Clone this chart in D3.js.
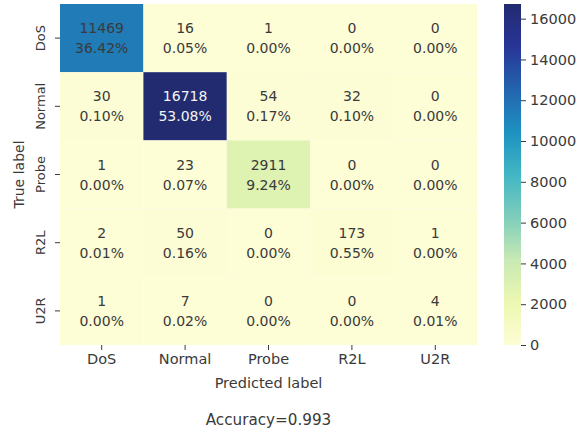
<!DOCTYPE html>
<html>
<head>
<meta charset="utf-8">
<script src="https://cdn.jsdelivr.net/npm/d3@7"></script>
<style>
  html, body { margin: 0; padding: 0; background: #fff; }
  svg { display: block; }
  text { font-family: "DejaVu Sans", sans-serif; }
</style>
</head>
<body>
<svg id="chart" width="581" height="432"></svg>
<script>
const trueLabels = ["DoS", "Normal", "Probe", "R2L", "U2R"];
const predLabels = ["DoS", "Normal", "Probe", "R2L", "U2R"];
const counts = [
  [11469, 16, 1, 0, 0],
  [30, 16718, 54, 32, 0],
  [1, 23, 2911, 0, 0],
  [2, 50, 0, 173, 1],
  [1, 7, 0, 0, 4]
];
const percents = [
  [36.42, 0.05, 0.00, 0.00, 0.00],
  [0.10, 53.08, 0.17, 0.10, 0.00],
  [0.00, 0.07, 9.24, 0.00, 0.00],
  [0.01, 0.16, 0.00, 0.55, 0.00],
  [0.00, 0.02, 0.00, 0.00, 0.01]
];
const colorbarTicks = [0, 2000, 4000, 6000, 8000, 10000, 12000, 14000, 16000];
const accuracyText = "Accuracy=0.993";
const xTitle = "Predicted label";
const yTitle = "True label";

const ylgnbu = ["#fdfdd6","#edf8b1","#c7e9b4","#7fcdbb","#41b6c4","#1d91c0","#2364ae","#283596","#222b70"];
const maxVal = d3.max(counts.flat());
const color = d3.scaleSequential(d3.piecewise(d3.interpolateRgb, ylgnbu)).domain([0, maxVal]);

const svg = d3.select("#chart");
const L = 60, R = 477, T = 4, B = 345;
const x = d3.scaleBand().domain(predLabels).range([L, R]);
const y = d3.scaleBand().domain(trueLabels).range([T, B]);

const cells = [];
counts.forEach((row, i) => row.forEach((v, j) => cells.push({r: trueLabels[i], c: predLabels[j], v, p: percents[i][j]})));

svg.append("g").selectAll("rect").data(cells).join("rect")
  .attr("x", d => x(d.c)).attr("y", d => y(d.r))
  .attr("width", x.bandwidth()).attr("height", y.bandwidth())
  .attr("fill", d => color(d.v));

function textColor(v) {
  const c = d3.rgb(color(v));
  const lum = 0.2126 * c.r/255 + 0.7152 * c.g/255 + 0.0722 * c.b/255;
  return lum < 0.408 ? "#f4f4f4" : "#3a3a3a";
}

const ann = svg.append("g").attr("font-size", 14).attr("text-anchor", "middle");
ann.selectAll("text.cnt").data(cells).join("text").attr("class", "cnt")
  .attr("x", d => x(d.c) + x.bandwidth()/2)
  .attr("y", d => y(d.r) + y.bandwidth()/2 - 10 + 5)
  .attr("fill", d => textColor(d.v))
  .text(d => d.v);
ann.selectAll("text.pct").data(cells).join("text").attr("class", "pct")
  .attr("x", d => x(d.c) + x.bandwidth()/2)
  .attr("y", d => y(d.r) + y.bandwidth()/2 + 10 + 5)
  .attr("fill", d => textColor(d.v))
  .text(d => d.p.toFixed(2) + "%");

// x axis
const xa = svg.append("g").attr("transform", `translate(0,${B})`)
  .call(d3.axisBottom(x).tickSize(5).tickPadding(4));
xa.select(".domain").remove();
xa.selectAll("line").attr("stroke", "#3a3a3a");
xa.selectAll("text").attr("font-size", 14.5).attr("fill", "#3a3a3a").attr("font-family", "DejaVu Sans");

// y axis
const ya = svg.append("g").attr("transform", `translate(${L},0)`)
  .call(d3.axisLeft(y).tickSize(5).tickPadding(4));
ya.select(".domain").remove();
ya.selectAll("line").attr("stroke", "#3a3a3a");
ya.selectAll("text")
  .attr("font-size", 13).attr("fill", "#3a3a3a").attr("font-family", "DejaVu Sans")
  .attr("text-anchor", "middle").attr("x", null).attr("dy", null)
  .attr("transform", "translate(-15,0) rotate(-90)");

svg.append("text").attr("x", (L+R)/2).attr("y", 388).attr("text-anchor", "middle")
  .attr("font-size", 14.5).attr("fill", "#3a3a3a").text(xTitle);
svg.append("text").attr("transform", `translate(24,${(T+B)/2}) rotate(-90)`).attr("text-anchor", "middle")
  .attr("font-size", 14).attr("fill", "#3a3a3a").text(yTitle);
svg.append("text").attr("x", (L+R)/2).attr("y", 425).attr("text-anchor", "middle")
  .attr("font-size", 15.2).attr("fill", "#3a3a3a").text(accuracyText);

// colorbar
const cbX = 504, cbW = 17;
const cy = d3.scaleLinear().domain([0, maxVal]).range([B, T]);
const defs = svg.append("defs");
const grad = defs.append("linearGradient").attr("id", "cbgrad")
  .attr("x1", 0).attr("y1", 1).attr("x2", 0).attr("y2", 0);
d3.range(0, 1.0001, 0.025).forEach(t => {
  grad.append("stop").attr("offset", t).attr("stop-color", color(t * maxVal));
});
svg.append("rect").attr("x", cbX).attr("y", T).attr("width", cbW).attr("height", B - T)
  .attr("fill", "url(#cbgrad)");
const ca = svg.append("g").attr("transform", `translate(${cbX + cbW},0)`)
  .call(d3.axisRight(cy).tickValues(colorbarTicks).tickFormat(d3.format("d")).tickSize(5).tickPadding(4));
ca.select(".domain").remove();
ca.selectAll("line").attr("stroke", "#3a3a3a");
ca.selectAll("text").attr("font-size", 14.5).attr("fill", "#3a3a3a").attr("font-family", "DejaVu Sans");
</script>
</body>
</html>
